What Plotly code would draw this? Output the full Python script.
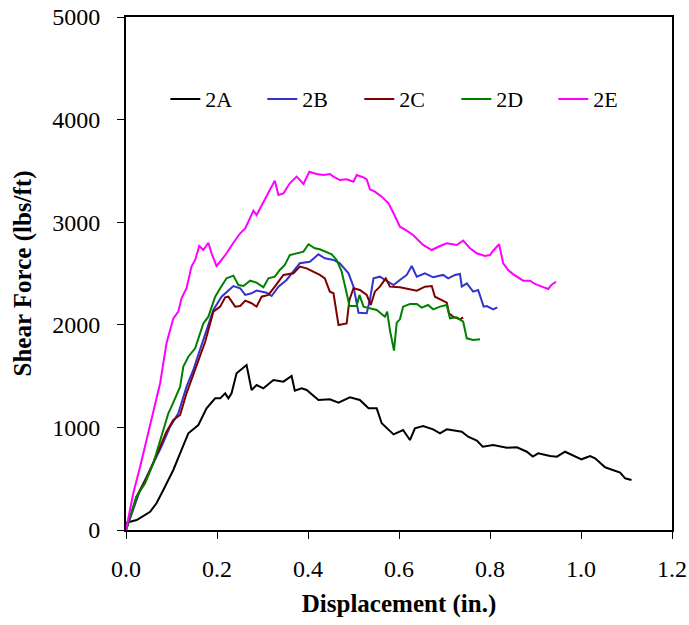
import plotly.graph_objects as go

# 2A
x_2a = [0.0, 0.0235, 0.053, 0.067, 0.082, 0.104, 0.122, 0.137, 0.159, 0.177, 0.196, 0.207, 0.218, 0.225, 0.232,
        0.243, 0.265, 0.276, 0.287, 0.302, 0.324, 0.346, 0.364, 0.371, 0.386, 0.397, 0.423, 0.448, 0.467, 0.492,
        0.514, 0.533, 0.551, 0.562, 0.588, 0.609, 0.624, 0.635, 0.653, 0.675, 0.690, 0.705, 0.738, 0.752, 0.771,
        0.784, 0.807, 0.837, 0.859, 0.881, 0.894, 0.906, 0.932, 0.947, 0.965, 0.991, 1.001, 1.020, 1.031, 1.053,
        1.086, 1.097, 1.111]
y_2a = [70, 97, 178, 260, 390, 585, 780, 942, 1023, 1186, 1283, 1283, 1332, 1283, 1332,
        1527, 1608, 1365, 1413, 1381, 1462, 1446, 1501, 1358, 1381, 1365, 1267, 1274, 1241, 1293,
        1267, 1186, 1186, 1040, 932, 975, 877, 991, 1013, 981, 942, 981, 958, 909, 871,
        812, 828, 802, 806, 763, 715, 747, 721, 715, 763, 715, 689, 721, 699, 611,
        559, 504, 487]

# 2B
x_2b = [0.0, 0.031, 0.060, 0.078, 0.097, 0.115, 0.133, 0.148, 0.155, 0.177, 0.192, 0.210, 0.236, 0.251, 0.262,
        0.276, 0.287, 0.309, 0.320, 0.335, 0.353, 0.382, 0.404, 0.423, 0.437, 0.456, 0.470, 0.489, 0.500,
        0.511, 0.529, 0.536, 0.544, 0.558, 0.588, 0.602, 0.617, 0.628, 0.639, 0.657, 0.675, 0.697, 0.708,
        0.723, 0.734, 0.738, 0.749, 0.763, 0.774, 0.786, 0.793, 0.807, 0.816]
y_2b = [0, 390, 650, 812, 1007, 1137, 1397, 1560, 1657, 1949, 2144, 2274, 2378, 2356, 2291,
        2307, 2333, 2313, 2281, 2372, 2437, 2600, 2615, 2687, 2648, 2632, 2600, 2502, 2372,
        2118, 2112, 2242, 2453, 2469, 2388, 2437, 2486, 2573, 2469, 2502, 2463, 2486, 2453,
        2486, 2495, 2372, 2404, 2323, 2339, 2177, 2183, 2151, 2170]

# 2C
x_2c = [0.0, 0.023, 0.045, 0.075, 0.089, 0.104, 0.119, 0.133, 0.155, 0.174, 0.181, 0.192, 0.207, 0.218, 0.225,
        0.240, 0.251, 0.262, 0.276, 0.287, 0.298, 0.313, 0.327, 0.346, 0.368, 0.382, 0.397, 0.412, 0.426,
        0.437, 0.448, 0.456, 0.463, 0.467, 0.485, 0.491, 0.500, 0.514, 0.529, 0.538, 0.547, 0.558, 0.571,
        0.580, 0.602, 0.624, 0.639, 0.657, 0.672, 0.679, 0.690, 0.705, 0.710, 0.719, 0.734, 0.741]
y_2c = [0, 325, 504, 812, 958, 1072, 1121, 1332, 1592, 1835, 1949, 2128, 2177, 2268, 2274,
        2177, 2183, 2235, 2210, 2177, 2274, 2291, 2372, 2486, 2502, 2567, 2550, 2518, 2486,
        2453, 2323, 2307, 2079, 1998, 2014, 2242, 2356, 2339, 2291, 2193, 2323, 2372, 2453,
        2372, 2365, 2346, 2333, 2372, 2378, 2274, 2249, 2216, 2112, 2079, 2053, 2073]

# 2D
x_2d = [0.0, 0.023, 0.042, 0.060, 0.082, 0.093, 0.100, 0.119, 0.126, 0.137, 0.152, 0.170, 0.181, 0.196, 0.207,
        0.221, 0.236, 0.247, 0.258, 0.273, 0.287, 0.302, 0.313, 0.327, 0.338, 0.349, 0.360, 0.375, 0.390,
        0.401, 0.415, 0.426, 0.437, 0.452, 0.463, 0.474, 0.485, 0.491, 0.507, 0.513, 0.522, 0.551, 0.569,
        0.574, 0.580, 0.589, 0.595, 0.602, 0.609, 0.624, 0.639, 0.650, 0.664, 0.675, 0.690, 0.705, 0.712,
        0.727, 0.741, 0.749, 0.763, 0.778]
y_2d = [0, 325, 455, 650, 975, 1137, 1202, 1397, 1592, 1689, 1771, 2014, 2079, 2274, 2356,
        2453, 2479, 2388, 2378, 2430, 2411, 2365, 2453, 2469, 2534, 2583, 2680, 2697, 2713,
        2785, 2746, 2736, 2713, 2687, 2632, 2518, 2307, 2183, 2183, 2291, 2177, 2144, 2079,
        2128, 1949, 1748, 2021, 2053, 2177, 2203, 2203, 2167, 2193, 2151, 2177, 2193, 2063,
        2073, 2030, 1868, 1852, 1859]

# 2E
x_2e = [0.0, 0.016, 0.031, 0.045, 0.060, 0.075, 0.089, 0.097, 0.104, 0.115, 0.122, 0.133, 0.144, 0.152,
        0.161, 0.170, 0.181, 0.188, 0.199, 0.210, 0.221, 0.236, 0.251, 0.262, 0.273, 0.280, 0.287, 0.295,
        0.309, 0.327, 0.335, 0.346, 0.360, 0.375, 0.390, 0.403, 0.419, 0.434, 0.448, 0.456, 0.470, 0.485,
        0.500, 0.507, 0.522, 0.529, 0.536, 0.547, 0.562, 0.577, 0.588, 0.602, 0.617, 0.631, 0.653, 0.672,
        0.690, 0.705, 0.727, 0.741, 0.756, 0.771, 0.789, 0.800, 0.807, 0.820, 0.829, 0.840, 0.851, 0.873,
        0.888, 0.899, 0.914, 0.928, 0.935, 0.945]
y_2e = [0, 358, 617, 877, 1137, 1430, 1820, 1949, 2063, 2128, 2258, 2356, 2567, 2632,
        2768, 2729, 2800, 2697, 2573, 2632, 2697, 2800, 2892, 2940, 3054, 3113, 3070, 3135,
        3249, 3405, 3265, 3281, 3379, 3444, 3372, 3492, 3470, 3460, 3470, 3444, 3411, 3418,
        3395, 3460, 3437, 3418, 3320, 3298, 3249, 3184, 3087, 2956, 2918, 2875, 2778, 2729,
        2768, 2794, 2778, 2820, 2746, 2697, 2671, 2680, 2722, 2785, 2600, 2534, 2492, 2430,
        2430, 2398, 2372, 2349, 2388, 2420]

series = [
    ("2A", x_2a, y_2a, "#000000"),
    ("2B", x_2b, y_2b, "#3333CC"),
    ("2C", x_2c, y_2c, "#800000"),
    ("2D", x_2d, y_2d, "#008000"),
    ("2E", x_2e, y_2e, "#FF00FF"),
]

fig = go.Figure()
for name, xs, ys, col in series:
    fig.add_trace(go.Scatter(x=xs, y=ys, mode="lines", name=name,
                             line=dict(color=col, width=2)))

font = "Liberation Serif"
fig.update_layout(
    width=689, height=625,
    margin=dict(l=126, r=17, t=17, b=95, autoexpand=False),
    paper_bgcolor="white", plot_bgcolor="white",
    font=dict(family=font, size=22, color="black"),
    showlegend=True,
    legend=dict(orientation="h", x=0.072, y=0.84, xanchor="left", yanchor="middle",
                bgcolor="rgba(0,0,0,0)", font=dict(size=22, family=font),
                entrywidth=52, entrywidthmode="pixels", tracegroupgap=0),
    xaxis=dict(range=[0, 1.2], tickvals=[0, 0.2, 0.4, 0.6, 0.8, 1.0, 1.2],
               ticktext=["0.0", "0.2", "0.4", "0.6", "0.8", "1.0", "1.2"],
               automargin=False,
               showgrid=False, zeroline=False, showline=True, linecolor="black", linewidth=2,
               mirror=True, ticks="outside", ticklen=7, tickwidth=1, tickcolor="black",
               ticklabelstandoff=9,
               tickfont=dict(size=24, family=font),
               title=dict(text="<b>Displacement (in.)</b>", font=dict(size=25, family=font), standoff=14)),
    yaxis=dict(range=[0, 5000], tickvals=[0, 1000, 2000, 3000, 4000, 5000],
               automargin=False,
               showgrid=False, zeroline=False, showline=True, linecolor="black", linewidth=2,
               mirror=True, ticks="outside", ticklen=7, tickwidth=1, tickcolor="black",
               ticklabelstandoff=12,
               tickfont=dict(size=24, family=font),
               title=dict(text="<b>Shear Force (lbs/ft)</b>", font=dict(size=25, family=font), standoff=13)),
)

fig.write_html("out.html")
